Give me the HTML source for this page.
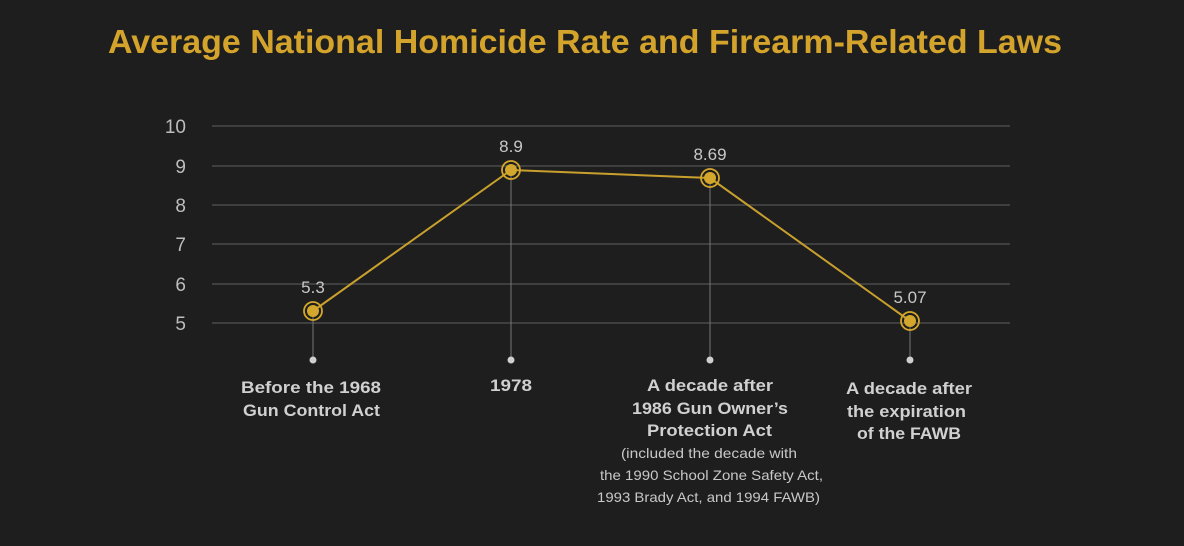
<!DOCTYPE html>
<html><head><meta charset="utf-8"><style>
html,body{margin:0;padding:0;background:#1e1e1e;}
svg{display:block;}
text{font-family:"Liberation Sans",sans-serif;}
</style></head><body>
<svg width="1184" height="546" viewBox="0 0 1184 546" xmlns="http://www.w3.org/2000/svg">
<rect width="1184" height="546" fill="#1e1e1e"/>
<text x="108" y="53" textLength="954" lengthAdjust="spacingAndGlyphs" font-size="33" font-weight="bold" fill="#d4a32c">Average National Homicide Rate and Firearm-Related Laws</text>
<g stroke="#4a4a4a" stroke-width="1.5">
<line x1="212" y1="126" x2="1010" y2="126"/>
<line x1="212" y1="166" x2="1010" y2="166"/>
<line x1="212" y1="205" x2="1010" y2="205"/>
<line x1="212" y1="244" x2="1010" y2="244"/>
<line x1="212" y1="284" x2="1010" y2="284"/>
<line x1="212" y1="323" x2="1010" y2="323"/>
</g>
<g fill="#bdbdbd" font-size="19" text-anchor="end">
<text x="186" y="133">10</text>
<text x="186" y="173">9</text>
<text x="186" y="212">8</text>
<text x="186" y="251">7</text>
<text x="186" y="291">6</text>
<text x="186" y="330">5</text>
</g>
<g stroke="#777" stroke-width="1">
<line x1="313" y1="311" x2="313" y2="360"/>
<line x1="511" y1="170" x2="511" y2="360"/>
<line x1="710" y1="178" x2="710" y2="360"/>
<line x1="910" y1="321" x2="910" y2="360"/>
</g>
<g fill="#cfcfcf">
<circle cx="313" cy="360" r="3.5"/><circle cx="511" cy="360" r="3.5"/><circle cx="710" cy="360" r="3.5"/><circle cx="910" cy="360" r="3.5"/>
</g>
<polyline points="313,311 511,170 710,178 910,321" fill="none" stroke="#c9a02e" stroke-width="2"/>
<g fill="#d4a72c" stroke="#d4a72c">
<circle cx="313" cy="311" r="9" fill="none" stroke-width="1.8"/><circle cx="313" cy="311" r="6" stroke="none"/>
<circle cx="511" cy="170" r="9" fill="none" stroke-width="1.8"/><circle cx="511" cy="170" r="6" stroke="none"/>
<circle cx="710" cy="178" r="9" fill="none" stroke-width="1.8"/><circle cx="710" cy="178" r="6" stroke="none"/>
<circle cx="910" cy="321" r="9" fill="none" stroke-width="1.8"/><circle cx="910" cy="321" r="6" stroke="none"/>
</g>
<g fill="#c8c8c8" font-size="17" text-anchor="middle">
<text x="313" y="293">5.3</text>
<text x="511" y="152">8.9</text>
<text x="710" y="160">8.69</text>
<text x="910" y="303">5.07</text>
</g>
<g fill="#d0d0d0" font-size="17" font-weight="bold" lengthAdjust="spacingAndGlyphs">
<text x="241" y="393" textLength="140" lengthAdjust="spacingAndGlyphs">Before the 1968</text>
<text x="243" y="416" textLength="137" lengthAdjust="spacingAndGlyphs">Gun Control Act</text>
<text x="490" y="391" textLength="42" lengthAdjust="spacingAndGlyphs">1978</text>
<text x="647" y="391" textLength="126" lengthAdjust="spacingAndGlyphs">A decade after</text>
<text x="632" y="414" textLength="156" lengthAdjust="spacingAndGlyphs">1986 Gun Owner’s</text>
<text x="647" y="436" textLength="125" lengthAdjust="spacingAndGlyphs">Protection Act</text>
<text x="846" y="394" textLength="126" lengthAdjust="spacingAndGlyphs">A decade after</text>
<text x="847" y="417" textLength="119" lengthAdjust="spacingAndGlyphs">the expiration</text>
<text x="857" y="439" textLength="104" lengthAdjust="spacingAndGlyphs">of the FAWB</text>
</g>
<g fill="#c8c8c8" font-size="14">
<text x="621" y="458" textLength="176" lengthAdjust="spacingAndGlyphs">(included the decade with</text>
<text x="600" y="480" textLength="223" lengthAdjust="spacingAndGlyphs">the 1990 School Zone Safety Act,</text>
<text x="597" y="502" textLength="223" lengthAdjust="spacingAndGlyphs">1993 Brady Act, and 1994 FAWB)</text>
</g>
</svg>
</body></html>
